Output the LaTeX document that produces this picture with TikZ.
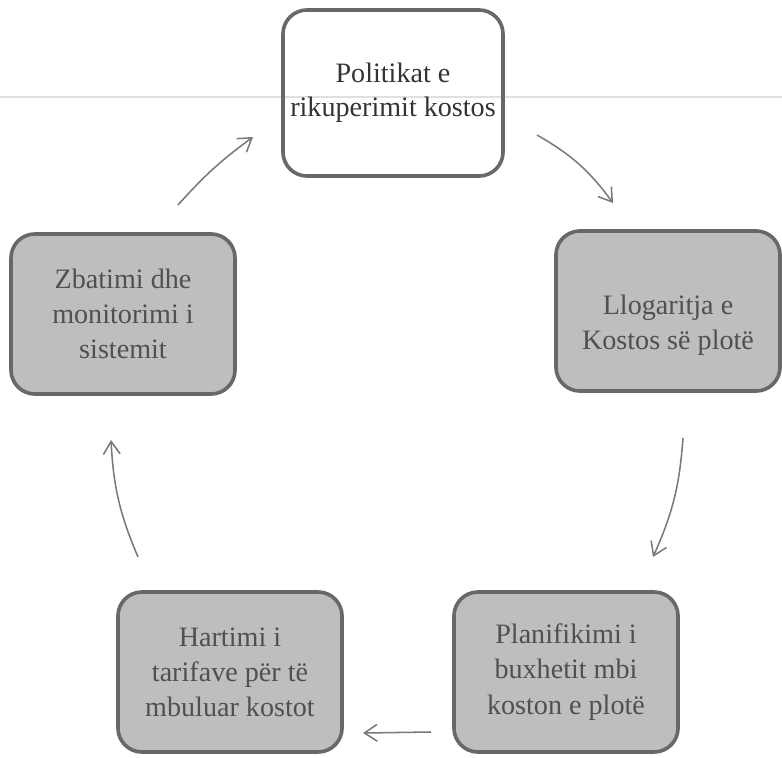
\documentclass[tikz,border=0pt]{standalone}
\usepackage{fontspec}
\setmainfont{Liberation Serif}
\usepackage{tikz}
\usetikzlibrary{arrows.meta,positioning}
\usepackage{xcolor}
\definecolor{cycborder}{HTML}{686868}
\definecolor{cycfill}{HTML}{BEBEBE}
\definecolor{cyctext}{HTML}{505050}
\definecolor{cycarrow}{HTML}{7A7A7A}

\begin{document}
\begin{tikzpicture}[x=0.025cm, y=-0.025cm, >={Straight Barb[length=3.2mm,width=4.2mm]},
  font=\fontsize{20}{25}\selectfont]
  \tikzstyle{stage}=[draw=cycborder,line width=2.6pt,rounded corners=0.6cm,fill=cycfill,text=cyctext,align=center,minimum width=5.6cm,minimum height=4cm]
  \tikzstyle{start}=[draw=cycborder,line width=2.6pt,rounded corners=0.6cm,text=black!80,align=center,minimum width=5.5cm,minimum height=4.15cm]
  \tikzstyle{flow}=[->,draw=cycarrow,line width=1.1pt]
  \useasboundingbox (0,0) rectangle (782,757);
  % faint rule of the scanned page
  \draw[black!12,line width=0.8pt] (0,97) -- (782,97);
  \node[start] (polit) at (393,93) {Politikat e\\[-1pt]rikuperimit kostos};
  \node[stage,text height=60pt,text depth=5pt] (llog) at (668,311) {Llogaritja e\\Kostos së plotë};
  \node[stage] (plan) at (566,672) {Planifikimi i\\buxhetit mbi\\koston e plotë};
  \node[stage] (hart) at (230,672) {Hartimi i\\tarifave për të\\mbuluar kostot};
  \node[stage] (zbat) at (123,314) {Zbatimi dhe\\monitorimi i\\sistemit};
  \coordinate (p1) at (537,135); \coordinate (q1) at (613,203);
  \coordinate (p2) at (683,438); \coordinate (q2) at (653,557);
  \coordinate (p3) at (431,732); \coordinate (q3) at (363,733);
  \coordinate (p4) at (138,557); \coordinate (q4) at (111,440);
  \coordinate (p5) at (178,205); \coordinate (q5) at (253,137);
  \draw[flow] (p1) to[bend left=12] (q1);
  \draw[flow] (p2) to[bend left=10] (q2);
  \draw[flow] (p3) -- (q3);
  \draw[flow] (p4) to[bend left=10] (q4);
  \draw[flow] (p5) to[bend left=6] (q5);
\end{tikzpicture}
\end{document}
